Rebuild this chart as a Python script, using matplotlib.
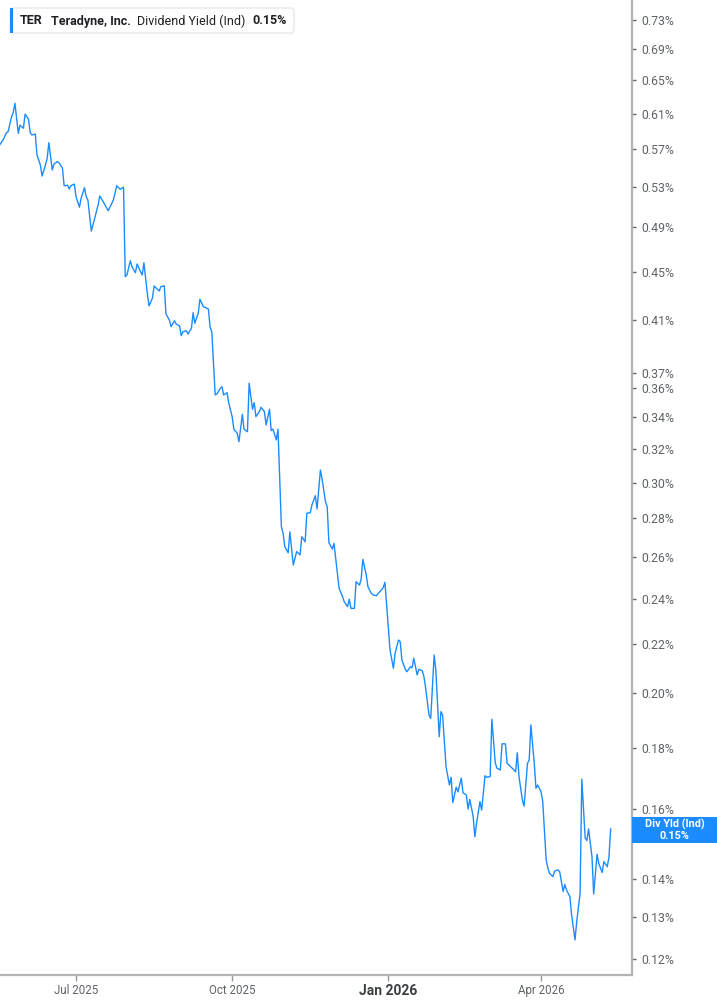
import matplotlib
matplotlib.use("Agg")
import matplotlib.pyplot as plt
import matplotlib.dates as mdates
from matplotlib.patches import FancyBboxPatch, Rectangle
from matplotlib.ticker import FixedLocator, FixedFormatter, NullLocator
import pandas as pd

# TER dividend yield (Ind), in percent
dates = [
    "2025-05-17", "2025-05-19", "2025-05-21", "2025-05-22", "2025-05-24", "2025-05-25", "2025-05-26",
    "2025-05-28", "2025-05-29", "2025-05-31", "2025-06-01", "2025-06-03", "2025-06-04", "2025-06-05",
    "2025-06-07", "2025-06-08", "2025-06-10", "2025-06-11", "2025-06-13", "2025-06-14", "2025-06-15",
    "2025-06-17", "2025-06-18", "2025-06-20", "2025-06-21", "2025-06-23", "2025-06-24", "2025-06-26",
    "2025-06-27", "2025-06-28", "2025-06-30", "2025-07-01", "2025-07-03", "2025-07-04", "2025-07-06",
    "2025-07-07", "2025-07-08", "2025-07-10", "2025-07-12", "2025-07-14", "2025-07-15", "2025-07-17",
    "2025-07-20", "2025-07-23", "2025-07-25", "2025-07-27", "2025-07-29", "2025-07-30", "2025-07-31",
    "2025-08-02", "2025-08-03", "2025-08-05", "2025-08-06", "2025-08-08", "2025-08-09", "2025-08-10",
    "2025-08-12", "2025-08-13", "2025-08-15", "2025-08-16", "2025-08-18", "2025-08-19", "2025-08-20",
    "2025-08-22", "2025-08-23", "2025-08-25", "2025-08-26", "2025-08-28", "2025-08-29", "2025-08-31",
    "2025-09-01", "2025-09-02", "2025-09-04", "2025-09-05", "2025-09-07", "2025-09-08", "2025-09-09",
    "2025-09-11", "2025-09-12", "2025-09-14", "2025-09-15", "2025-09-17", "2025-09-18", "2025-09-19",
    "2025-09-21", "2025-09-22", "2025-09-24", "2025-09-25", "2025-09-26", "2025-09-28", "2025-09-29",
    "2025-10-01", "2025-10-02", "2025-10-04", "2025-10-05", "2025-10-07", "2025-10-08", "2025-10-10",
    "2025-10-11", "2025-10-13", "2025-10-14", "2025-10-15", "2025-10-17", "2025-10-18", "2025-10-20",
    "2025-10-21", "2025-10-23", "2025-10-24", "2025-10-25", "2025-10-27", "2025-10-28", "2025-10-30",
    "2025-10-31", "2025-11-01", "2025-11-03", "2025-11-04", "2025-11-06", "2025-11-07", "2025-11-08",
    "2025-11-10", "2025-11-11", "2025-11-13", "2025-11-14", "2025-11-16", "2025-11-17", "2025-11-19",
    "2025-11-20", "2025-11-22", "2025-11-23", "2025-11-25", "2025-11-26", "2025-11-27", "2025-11-29",
    "2025-11-30", "2025-12-02", "2025-12-03", "2025-12-05", "2025-12-06", "2025-12-08", "2025-12-09",
    "2025-12-10", "2025-12-12", "2025-12-13", "2025-12-15", "2025-12-16", "2025-12-17", "2025-12-19",
    "2025-12-20", "2025-12-22", "2025-12-23", "2025-12-25", "2025-12-26", "2025-12-28", "2025-12-29",
    "2025-12-30", "2026-01-01", "2026-01-02", "2026-01-04", "2026-01-05", "2026-01-07", "2026-01-08",
    "2026-01-09", "2026-01-11", "2026-01-12", "2026-01-14", "2026-01-15", "2026-01-16", "2026-01-18",
    "2026-01-19", "2026-01-21", "2026-01-22", "2026-01-23", "2026-01-25", "2026-01-26", "2026-01-28",
    "2026-01-29", "2026-01-31", "2026-02-01", "2026-02-02", "2026-02-04", "2026-02-06", "2026-02-07",
    "2026-02-08", "2026-02-10", "2026-02-11", "2026-02-13", "2026-02-14", "2026-02-16", "2026-02-17",
    "2026-02-18", "2026-02-20", "2026-02-21", "2026-02-22", "2026-02-24", "2026-02-25", "2026-02-27",
    "2026-02-28", "2026-03-02", "2026-03-03", "2026-03-05", "2026-03-06", "2026-03-08", "2026-03-09",
    "2026-03-11", "2026-03-12", "2026-03-14", "2026-03-15", "2026-03-17", "2026-03-18", "2026-03-19",
    "2026-03-21", "2026-03-22", "2026-03-24", "2026-03-25", "2026-03-26", "2026-03-28", "2026-03-29",
    "2026-03-30", "2026-04-01", "2026-04-02", "2026-04-04", "2026-04-05", "2026-04-06", "2026-04-08",
    "2026-04-09", "2026-04-11", "2026-04-12", "2026-04-14", "2026-04-15", "2026-04-16", "2026-04-18",
    "2026-04-19", "2026-04-21", "2026-04-22", "2026-04-24", "2026-04-25", "2026-04-27", "2026-04-28",
    "2026-04-29", "2026-05-01", "2026-05-02", "2026-05-04", "2026-05-05", "2026-05-07", "2026-05-08",
    "2026-05-10", "2026-05-11", "2026-05-12",
]
yield_pct = [
    0.5742, 0.5797, 0.5879, 0.5891, 0.6063, 0.6110, 0.6221, 0.5872, 0.5966, 0.5929, 0.6091, 0.6033,
    0.5879, 0.5853, 0.5864, 0.5632, 0.5525, 0.5409, 0.5525, 0.5596, 0.5767, 0.5472, 0.5535, 0.5560,
    0.5549, 0.5490, 0.5309, 0.5313, 0.5276, 0.5309, 0.5326, 0.5198, 0.5094, 0.5182, 0.5289, 0.5198,
    0.5165, 0.4866, 0.4986, 0.5116, 0.5205, 0.5148, 0.5060, 0.5165, 0.5309, 0.5273, 0.5293, 0.4457,
    0.4471, 0.4596, 0.4543, 0.4491, 0.4567, 0.4500, 0.4471, 0.4578, 0.4317, 0.4213, 0.4276, 0.4378,
    0.4350, 0.4336, 0.4372, 0.4380, 0.4148, 0.4101, 0.4048, 0.4095, 0.4069, 0.4054, 0.3979, 0.4009,
    0.4017, 0.3992, 0.4036, 0.4159, 0.4075, 0.4154, 0.4268, 0.4207, 0.4202, 0.4188, 0.4044, 0.4009,
    0.3550, 0.3557, 0.3596, 0.3607, 0.3550, 0.3566, 0.3494, 0.3405, 0.3324, 0.3298, 0.3245, 0.3420,
    0.3324, 0.3308, 0.3631, 0.3454, 0.3498, 0.3405, 0.3438, 0.3467, 0.3438, 0.3351, 0.3454, 0.3315,
    0.3324, 0.3256, 0.3324, 0.2756, 0.2721, 0.2652, 0.2621, 0.2729, 0.2560, 0.2593, 0.2627, 0.2610,
    0.2703, 0.2677, 0.2828, 0.2831, 0.2873, 0.2925, 0.2851, 0.3073, 0.3019, 0.2891, 0.2864, 0.2672,
    0.2640, 0.2669, 0.2519, 0.2448, 0.2409, 0.2386, 0.2363, 0.2397, 0.2355, 0.2355, 0.2479, 0.2463,
    0.2491, 0.2588, 0.2511, 0.2455, 0.2424, 0.2417, 0.2413, 0.2424, 0.2440, 0.2451, 0.2476, 0.2274,
    0.2174, 0.2099, 0.2160, 0.2216, 0.2209, 0.2133, 0.2095, 0.2085, 0.2105, 0.2101, 0.2140, 0.2072,
    0.2095, 0.2089, 0.2065, 0.2020, 0.1918, 0.1906, 0.2153, 0.2092, 0.1840, 0.1931, 0.1918, 0.1737,
    0.1677, 0.1702, 0.1621, 0.1670, 0.1655, 0.1699, 0.1652, 0.1645, 0.1601, 0.1631, 0.1578, 0.1518,
    0.1558, 0.1624, 0.1598, 0.1707, 0.1702, 0.1704, 0.1903, 0.1750, 0.1732, 0.1726, 0.1815, 0.1815,
    0.1748, 0.1737, 0.1732, 0.1720, 0.1784, 0.1704, 0.1629, 0.1610, 0.1748, 0.1759, 0.1882, 0.1748,
    0.1666, 0.1677, 0.1655, 0.1624, 0.1452, 0.1429, 0.1415, 0.1406, 0.1421, 0.1424, 0.1419, 0.1366,
    0.1385, 0.1370, 0.1353, 0.1306, 0.1245, 0.1289, 0.1362, 0.1696, 0.1514, 0.1507, 0.1541, 0.1461,
    0.1360, 0.1468, 0.1442, 0.1417, 0.1447, 0.1433, 0.1459, 0.1541,
]

y_ticks = [0.12, 0.13, 0.14, 0.16, 0.18, 0.20, 0.22, 0.24, 0.26, 0.28, 0.30, 0.32, 0.34,
           0.36, 0.37, 0.41, 0.45, 0.49, 0.53, 0.57, 0.61, 0.65, 0.69, 0.73]
x_ticks = ["2025-07-01", "2025-10-01", "2026-01-01", "2026-04-01"]
x_labels = ["Jul 2025", "Oct 2025", "Jan 2026", "Apr 2026"]

BLUE = "#1a8cff"
GREY = "#5f6368"

plt.rcParams["font.family"] = ["Roboto", "DejaVu Sans"]

W, H = 717, 1005
fig = plt.figure(figsize=(W / 100, H / 100), dpi=100)
ax = fig.add_axes([0, 30 / H, 632 / W, 975 / H])

x = pd.to_datetime(dates)
ax.plot(x, yield_pct, color=BLUE, lw=1.0)

ax.set_yscale("log")
ax.set_ylim(0.11636, 0.7588)
ax.set_xlim(pd.Timestamp("2025-05-17 05:00"), pd.Timestamp("2026-05-24 14:00"))

ax.yaxis.tick_right()
ax.yaxis.set_major_locator(FixedLocator(y_ticks))
ax.yaxis.set_major_formatter(FixedFormatter([f"{v:.2f}%" for v in y_ticks]))
ax.yaxis.set_minor_locator(NullLocator())
ax.tick_params(axis="y", which="major", length=3, width=1, color="#666666",
               labelsize=8.8, labelcolor=GREY, pad=4)

xt = pd.to_datetime(x_ticks)
ax.set_xticks(mdates.date2num(xt))
ax.set_xticklabels(x_labels)
ax.xaxis.set_minor_locator(NullLocator())
ax.tick_params(axis="x", length=4, width=1, color="#999999", labelsize=8.3,
               labelcolor=GREY, pad=2.5)
for lbl in ax.get_xticklabels():
    if lbl.get_text() == "Jan 2026":
        lbl.set_fontweight("bold")
        lbl.set_fontsize(10)
        lbl.set_color("#3c4043")

for side in ("left", "top"):
    ax.spines[side].set_visible(False)
for side in ("right", "bottom"):
    ax.spines[side].set_color("#b3b3b3")
    ax.spines[side].set_linewidth(1.6)


def fx(px):
    return px / W


def fy(py):
    return 1 - py / H


# legend card top-left
card = FancyBboxPatch((fx(10), fy(33)), fx(294) - fx(10), fy(8) - fy(33),
                      boxstyle="round,pad=0,rounding_size=0.004",
                      transform=fig.transFigure, facecolor="white",
                      edgecolor="#e3e3e3", lw=0.8, zorder=5)
fig.patches.append(card)
bar = Rectangle((fx(10), fy(33)), fx(3), fy(8) - fy(33), transform=fig.transFigure,
                facecolor=BLUE, edgecolor="none", zorder=6)
fig.patches.append(bar)

ty = fy(21)
txt = dict(va="center", ha="left", fontsize=9, color="#202124", zorder=7)
fig.text(fx(20), ty, "TER", fontweight="bold", **txt)
fig.text(fx(51), ty, "Teradyne, Inc.", fontweight="bold", **txt)
fig.text(fx(137), ty, "Dividend Yield (Ind)", **txt)
fig.text(fx(252), ty, "0.15%", fontweight="bold", **txt)

# last value tag on the right axis
tag = Rectangle((fx(632), fy(842.5)), fx(717) - fx(632), fy(817) - fy(842.5),
                transform=fig.transFigure, facecolor=BLUE, edgecolor="none", zorder=5)
fig.patches.append(tag)
fig.text(fx(674.5), fy(824), "Div Yld (Ind)", ha="center", va="center", fontsize=7.8,
         fontweight="bold", color="white", zorder=7)
fig.text(fx(674.5), fy(835.5), "0.15%", ha="center", va="center", fontsize=7.8,
         fontweight="bold", color="white", zorder=7)

fig.savefig("out.png", dpi=100, facecolor="white")
